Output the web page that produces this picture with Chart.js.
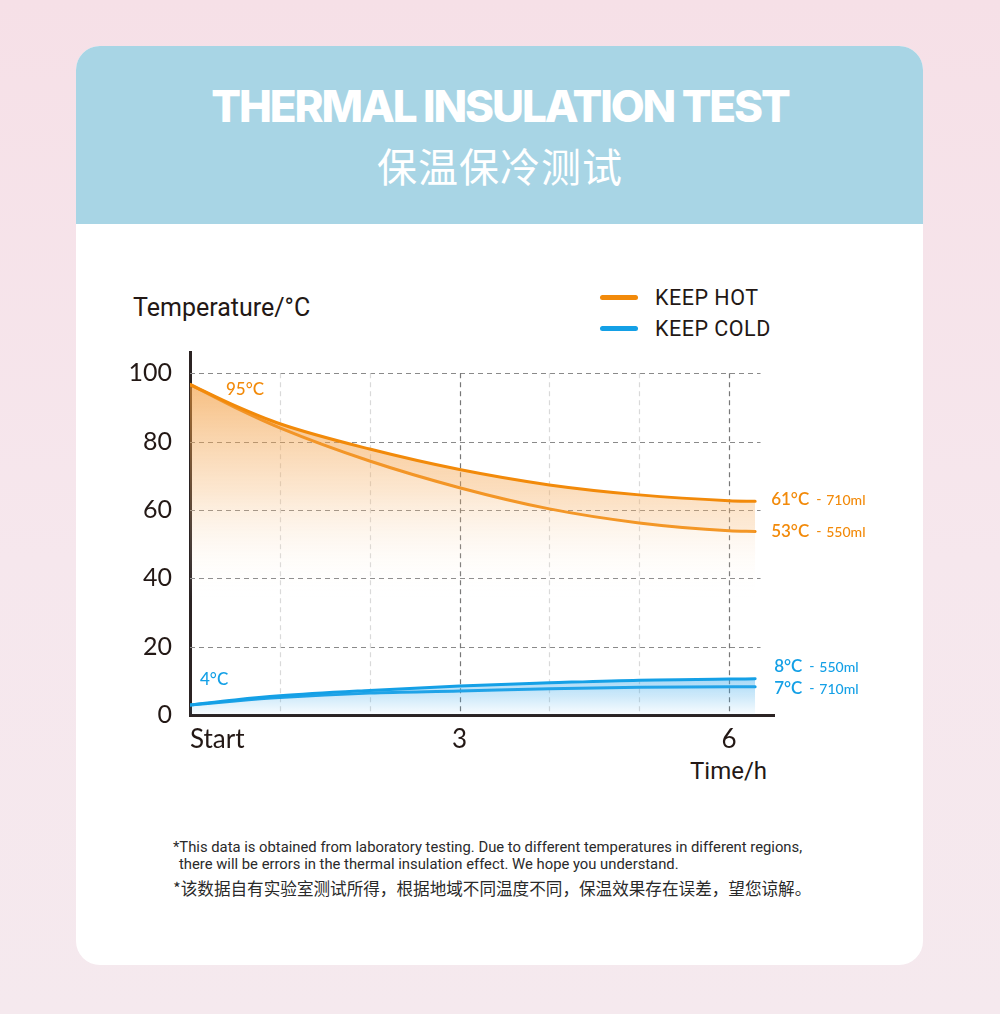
<!DOCTYPE html>
<html><head><meta charset="utf-8">
<script src="https://cdn.jsdelivr.net/npm/chart.js@4.4.1/dist/chart.umd.min.js"></script>
<style>
html,body{margin:0;padding:0;}
body{width:1000px;height:1014px;background:linear-gradient(180deg,#f6e0e7 0%,#f6e7ed 55%,#f5e9ee 100%);position:relative;overflow:hidden;font-family:Roboto,"Noto Sans CJK SC",sans-serif;color:#231815;}
.card{position:absolute;left:76px;top:46px;width:847px;height:919px;background:#fff;border-radius:24px;overflow:hidden;}
.head{position:absolute;left:0;top:0;width:100%;height:178px;background:#a8d5e5;}
.abs{position:absolute;line-height:1;white-space:nowrap;}
.t1{left:0;width:1000px;text-align:center;top:84px;color:#fff;font-family:Inter,sans-serif;font-weight:800;font-size:44px;letter-spacing:-2.1px;}
.t2{left:0;width:1000px;text-align:center;top:145px;color:#fff;font-family:"Noto Sans CJK SC",sans-serif;font-weight:400;font-size:40px;letter-spacing:1px;}
.ylab{left:133px;top:295px;font-size:25px;}
.xlab{left:690px;top:759px;font-size:24px;}
.leg{font-size:21.5px;left:655px;letter-spacing:0.5px;}
.sw{position:absolute;left:600px;width:38px;height:5px;border-radius:3px;}
.fn{font-size:14.8px;color:#2a2a2a;}
.fncn{font-family:"Noto Sans CJK SC",sans-serif;font-size:16.6px;color:#2a2a2a;}
#c{position:absolute;left:0;top:0;}
</style>
</head><body>
<div class="card"><div class="head"></div></div>
<div class="abs t1">THERMAL INSULATION TEST</div>
<div class="abs t2">保温保冷测试</div>
<div class="abs ylab">Temperature/°C</div>
<div class="abs xlab">Time/h</div>
<div class="sw" style="top:294.5px;background:#f28a0a"></div>
<div class="abs leg" style="top:287px">KEEP HOT</div>
<div class="sw" style="top:325.5px;background:#14a0e6"></div>
<div class="abs leg" style="top:318px">KEEP COLD</div>
<div class="abs fn" style="left:173px;top:840px">*This data is obtained from laboratory testing. Due to different temperatures in different regions,</div>
<div class="abs fn" style="left:179px;top:857px">there will be errors in the thermal insulation effect. We hope you understand.</div>
<div class="abs fncn" style="left:173px;top:880px">*该数据自有实验室测试所得，根据地域不同温度不同，保温效果存在误差，望您谅解。</div>
<canvas id="c" width="1000" height="1014"></canvas>
<script>
// ---- data ----
const hours   = [0, 0.5, 1, 2, 3, 4, 5, 6, 6.29];
const hot710  = [96.7, 90.5, 85.2, 77.8, 71.8, 67.3, 64.4, 62.7, 62.5];
const hot550  = [96.7, 90.0, 84.0, 74.3, 66.5, 60.3, 56.2, 53.9, 53.7];
const cold550 = [2.9, 4.4, 5.6, 7.2, 8.5, 9.4, 10.2, 10.5, 10.6];
const cold710 = [2.9, 4.1, 5.1, 6.4, 7.0, 7.7, 8.1, 8.3, 8.3];
const xTicks  = [0, 1, 2, 3, 4, 5, 6, 6.5];
const xTickLabels = {0: 'Start', 3: '3', 6: '6'};
const yTicks  = [0, 20, 40, 60, 80, 100];
const startLabels = ['95°C', '4°C'];
const endMain   = ['61°C', '53°C', '8°C', '7°C'];
const endSuffix = ['710ml', '550ml', '550ml', '710ml'];

const ORANGE = '#f28a0a', BLUE = '#14a0e6', DARK = '#231815';
const pts = arr => hours.map((h, i) => ({x: h, y: arr[i]}));

function hotFill(ctx) {
  const ch = ctx.chart; if (!ch.chartArea) return 'rgba(0,0,0,0)';
  const y = ch.scales.y;
  const g = ch.ctx.createLinearGradient(0, y.getPixelForValue(97), 0, y.getPixelForValue(34));
  g.addColorStop(0, 'rgba(241,150,50,0.62)');
  g.addColorStop(0.5, 'rgba(245,175,100,0.30)');
  g.addColorStop(1, 'rgba(255,255,255,0)');
  return g;
}
function coldFill(ctx) {
  const ch = ctx.chart; if (!ch.chartArea) return 'rgba(0,0,0,0)';
  const y = ch.scales.y;
  const g = ch.ctx.createLinearGradient(0, y.getPixelForValue(10.6), 0, y.getPixelForValue(0));
  g.addColorStop(0, 'rgba(60,170,235,0.45)');
  g.addColorStop(1, 'rgba(60,170,235,0.03)');
  return g;
}

const gridPlugin = {
  id: 'customGrid',
  beforeDatasetsDraw(chart) {
    const {ctx, scales: {x, y}} = chart;
    ctx.save();
    ctx.lineWidth = 1.2;
    ctx.setLineDash([5, 4]);
    yTicks.filter(v => v > 0).forEach(v => {
      const py = Math.round(y.getPixelForValue(v)) + 0.5;
      ctx.strokeStyle = '#8a8a8a';
      ctx.beginPath(); ctx.moveTo(x.getPixelForValue(0), py); ctx.lineTo(x.getPixelForValue(6.35), py); ctx.stroke();
    });
    xTicks.filter(v => v > 0 && v <= 6).forEach(v => {
      const px = Math.round(x.getPixelForValue(v)) + 0.5;
      ctx.strokeStyle = (v % 3 === 0) ? '#777777' : '#d9d9d9';
      ctx.beginPath(); ctx.moveTo(px, y.getPixelForValue(100)); ctx.lineTo(px, y.getPixelForValue(0)); ctx.stroke();
    });
    ctx.restore();
  }
};

const labelPlugin = {
  id: 'valueLabels',
  afterDatasetsDraw(chart) {
    const {ctx, scales: {x, y}} = chart;
    ctx.save();
    ctx.textBaseline = 'middle';
    ctx.textAlign = 'left';
    ctx.font = '500 17px Lato, sans-serif';
    ctx.fillStyle = ORANGE;
    ctx.fillText(startLabels[0], x.getPixelForValue(0) + 36, y.getPixelForValue(hot710[0]) + 5);
    ctx.fillStyle = BLUE;
    ctx.fillText(startLabels[1], x.getPixelForValue(0) + 10, y.getPixelForValue(cold550[0]) - 26);
    const last = hours.length - 1;
    const ends = [
      {v: hot710[last], c: ORANGE, dx: 16, dy: -2},
      {v: hot550[last], c: ORANGE, dx: 16, dy: 0},
      {v: cold550[last], c: BLUE, dx: 19, dy: -12},
      {v: cold710[last], c: BLUE, dx: 19, dy: 2}
    ];
    ends.forEach((e, i) => {
      const px = x.getPixelForValue(hours[last]) + e.dx;
      const py = y.getPixelForValue(e.v) + e.dy;
      ctx.fillStyle = e.c;
      ctx.font = '600 17px Lato, sans-serif';
      ctx.fillText(endMain[i], px, py);
      const w = ctx.measureText(endMain[i]).width;
      ctx.font = '500 14px Lato, sans-serif';
      ctx.fillText('-', px + w + 7, py);
      ctx.fillText(endSuffix[i], px + w + 17, py + 1);
    });
    ctx.restore();
  }
};

new Chart(document.getElementById('c'), {
  type: 'line',
  data: {
    datasets: [
      {label: 'KEEP HOT 710ml', data: pts(hot710), borderColor: ORANGE, borderWidth: 3, fill: 'origin', backgroundColor: hotFill},
      {label: 'KEEP HOT 550ml', data: pts(hot550), borderColor: ORANGE, borderWidth: 3, fill: '-1', backgroundColor: 'rgba(245,160,70,0.14)'},
      {label: 'KEEP COLD 550ml', data: pts(cold550), borderColor: BLUE, borderWidth: 3, fill: 'origin', backgroundColor: coldFill},
      {label: 'KEEP COLD 710ml', data: pts(cold710), borderColor: BLUE, borderWidth: 3, fill: false}
    ]
  },
  options: {
    responsive: false,
    animation: false,
    layout: {padding: {left: 130, right: 226, top: 352, bottom: 239}},
    elements: {line: {tension: 0.4, cubicInterpolationMode: 'monotone', borderCapStyle: 'round'}, point: {radius: 0}},
    plugins: {legend: {display: false}, tooltip: {enabled: false}},
    scales: {
      x: {
        type: 'linear', min: 0, max: 6.5,
        afterBuildTicks: s => { s.ticks = xTicks.map(v => ({value: v})); },
        afterFit: s => { s.height = 60; },
        grid: {display: false, drawTicks: false},
        border: {display: true, color: '#2b2323', width: 3},
        ticks: {autoSkip: false, maxRotation: 0, align: 'inner', padding: 9, color: DARK,
          font: {family: 'Lato', size: 26},
          callback: v => xTickLabels[v] || ''}
      },
      y: {
        type: 'linear', min: 0, max: 106.2,
        afterBuildTicks: s => { s.ticks = yTicks.map(v => ({value: v})); },
        afterFit: s => { s.width = 60; },
        grid: {display: false, drawTicks: false},
        border: {display: true, color: '#2b2323', width: 3},
        ticks: {padding: 18, color: DARK, font: {family: 'Lato', size: 25}}
      }
    }
  },
  plugins: [gridPlugin, labelPlugin]
});
</script>
</body></html>
